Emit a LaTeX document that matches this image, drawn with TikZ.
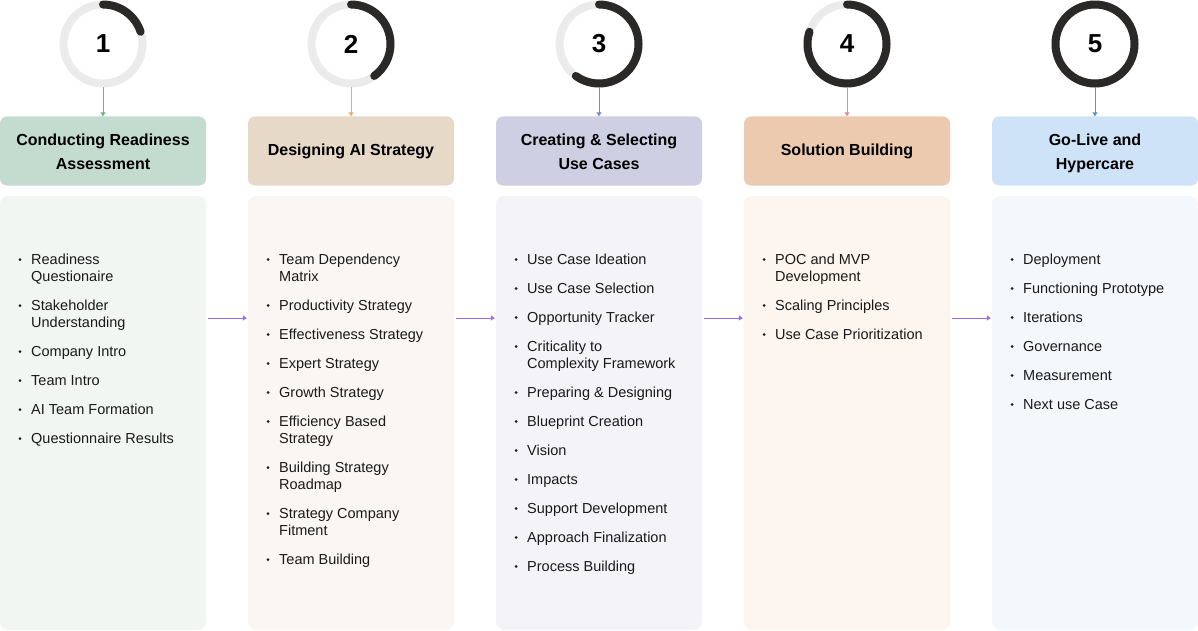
\documentclass[tikz,border=0pt]{standalone}
\usepackage{fontspec}
\setmainfont{Liberation Sans}
\usetikzlibrary{arrows.meta}
\definecolor{hdA}{HTML}{C3DCCF}\definecolor{bdA}{HTML}{F2F6F3}\definecolor{lnA}{HTML}{6DB38A}
\definecolor{hdB}{HTML}{E6D9C8}\definecolor{bdB}{HTML}{FAF6F3}\definecolor{lnB}{HTML}{F4A868}
\definecolor{hdC}{HTML}{CFCFE4}\definecolor{bdC}{HTML}{F3F3F8}\definecolor{lnC}{HTML}{8080D8}
\definecolor{hdD}{HTML}{ECCAB0}\definecolor{bdD}{HTML}{FDF5F0}\definecolor{lnD}{HTML}{E09090}
\definecolor{hdE}{HTML}{CFE3F8}\definecolor{bdE}{HTML}{F3F8FD}\definecolor{lnE}{HTML}{5B8FD6}
\definecolor{ringgray}{HTML}{EBEBEB}
\definecolor{ringdark}{HTML}{2B2828}
\definecolor{txt}{HTML}{1A1A1A}
\definecolor{flowpurple}{HTML}{9F6BF0}
\newcommand\twoln[2]{\vtop{\hbox{#1}\hbox{#2}}}
\tikzset{
  ring/.style={circle, draw=ringgray, line width=8pt, minimum size=79pt, inner sep=0pt,
    font=\fontsize{26}{30}\selectfont\bfseries, text=black},
  darkarc/.style={draw=ringdark, line width=8pt, line cap=round},
  hdr/.style={rectangle, rounded corners=7pt, minimum width=206pt, minimum height=69pt,
    inner sep=0pt, align=center, font=\fontsize{16}{24}\selectfont\bfseries, text=black},
  hdrtext/.style={inner sep=0pt, align=center, font=\fontsize{16}{24}\selectfont\bfseries, text=black},
  bodybox/.style={rectangle, rounded corners=8pt, minimum width=206pt, minimum height=434pt, inner sep=0pt},
  vconn/.style={line width=1pt, -{Triangle[width=5pt,length=4pt]}},
  hconn/.style={draw=flowpurple, line width=1pt, -{Triangle[width=5pt,length=4pt]}, shorten <=2pt, shorten >=1pt},
  item/.style={anchor=base west, inner sep=0pt, font=\fontsize{14.5}{17}\selectfont, text=txt},
  bul/.style={fill=txt}
}
\begin{document}
\begin{tikzpicture}[x=1pt,y=-1pt]
\useasboundingbox (0,0) rectangle (1198,631);
% columns (arc angles given in the flipped y system: visual angle = -user angle)
\foreach \c/\L/\num/\endang in {1/A/1/-18, 2/B/2/54, 3/C/3/126, 4/D/4/198, 5/E/5/270}{
  \pgfmathsetmacro\cx{103+248*(\c-1)}
  \node[ring] (r\c) at (\cx,44) {\num};
  \draw[darkarc] (r\c.center) ++(0,-39.5) arc[start angle=-90, end angle=\endang, radius=39.5];
  \node[bodybox, fill=bd\L] (b\c) at (\cx,413) {};
}
\node[hdr, fill=hdA] (h1) at (103,151) {};
\node[hdr, fill=hdB] (h2) at (351,151) {};
\node[hdr, fill=hdC] (h3) at (599,151) {};
\node[hdr, fill=hdD] (h4) at (847,151) {};
\node[hdr, fill=hdE] (h5) at (1095,151) {};
\node[hdrtext] (t1) at ([yshift=-2pt]h1.center) {Conducting Readiness\strut\\Assessment\strut};
\node[hdrtext] (t2) at (h2.center) {Designing AI Strategy\strut};
\node[hdrtext] (t3) at ([yshift=-2pt]h3.center) {Creating \& Selecting\strut\\Use Cases\strut};
\node[hdrtext] (t4) at (h4.center) {Solution Building\strut};
\node[hdrtext] (t5) at ([yshift=-2pt]h5.center) {Go-Live and\strut\\Hypercare\strut};
\draw[vconn, draw=lnA, fill=lnA] (r1.south) -- (h1.north);
\draw[vconn, draw=lnB, fill=lnB] (r2.south) -- (h2.north);
\draw[vconn, draw=lnC, fill=lnC] (r3.south) -- (h3.north);
\draw[vconn, draw=lnD, fill=lnD] (r4.south) -- (h4.north);
\draw[vconn, draw=lnE, fill=lnE] (r5.south) -- (h5.north);
% flow arrows
\foreach \a/\b in {1/2,2/3,3/4,4/5}{
  \draw[hconn, fill=flowpurple] ([yshift=95pt]b\a.east) -- ([yshift=95pt]b\b.west);
}
% items
\foreach \t/\y [count=\i] in {\twoln{Readiness}{Questionaire}/264, \twoln{Stakeholder}{Understanding}/310, Company Intro/356, Team Intro/385, AI Team Formation/414, Questionnaire Results/443}{
  \fill[bul] (20,\y-4.5) circle (1.5);
  \node[item] (ia\i) at (31,\y) {\t};
}
\foreach \t/\y [count=\i] in {\twoln{Team Dependency}{Matrix}/264, Productivity Strategy/310, Effectiveness Strategy/339, Expert Strategy/368, Growth Strategy/397, \twoln{Efficiency Based}{Strategy}/426, \twoln{Building Strategy}{Roadmap}/472, \twoln{Strategy Company}{Fitment}/518, Team Building/564}{
  \fill[bul] (268,\y-4.5) circle (1.5);
  \node[item] (ib\i) at (279,\y) {\t};
}
\foreach \t/\y [count=\i] in {Use Case Ideation/264, Use Case Selection/293, Opportunity Tracker/322, \twoln{Criticality to}{Complexity Framework}/351, Preparing \& Designing/397, Blueprint Creation/426, Vision/455, Impacts/484, Support Development/513, Approach Finalization/542, Process Building/571}{
  \fill[bul] (516,\y-4.5) circle (1.5);
  \node[item] (ic\i) at (527,\y) {\t};
}
\foreach \t/\y [count=\i] in {\twoln{POC and MVP}{Development}/264, Scaling Principles/310, Use Case Prioritization/339}{
  \fill[bul] (764,\y-4.5) circle (1.5);
  \node[item] (id\i) at (775,\y) {\t};
}
\foreach \t/\y [count=\i] in {Deployment/264, Functioning Prototype/293, Iterations/322, Governance/351, Measurement/380, Next use Case/409}{
  \fill[bul] (1012,\y-4.5) circle (1.5);
  \node[item] (ie\i) at (1023,\y) {\t};
}
\end{tikzpicture}
\end{document}
